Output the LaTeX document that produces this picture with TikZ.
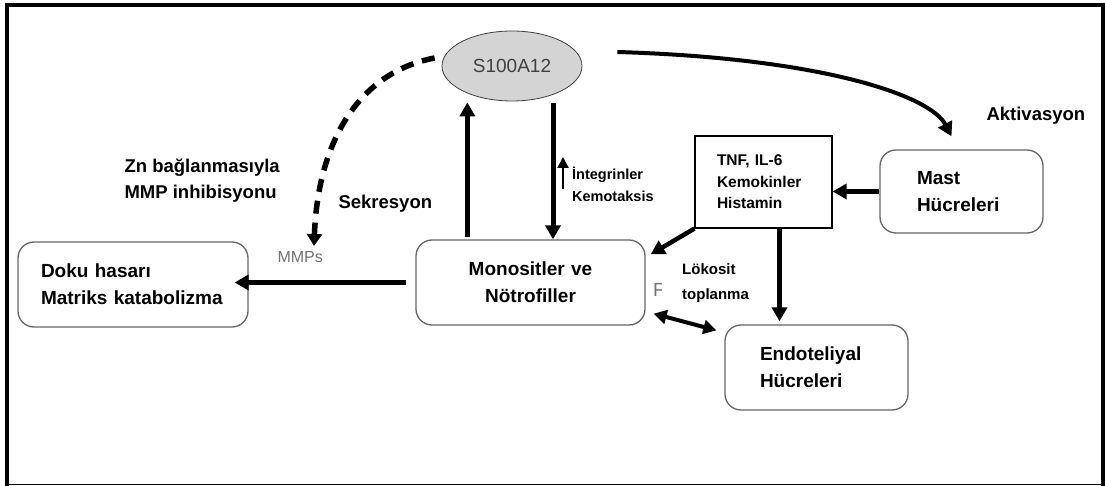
\documentclass[tikz,border=0pt]{standalone}
\usepackage{fontspec}
\setmainfont{Liberation Sans}
\usetikzlibrary{arrows.meta,calc,shapes.geometric}

\tikzset{
  cellbox/.style={draw=black!60, line width=1.3pt, rounded corners=16pt, fill=white,
    minimum height=85pt, align=left, font=\bfseries\fontsize{19}{27}\selectfont},
  arr/.style={line width=5pt, -{Triangle[length=14pt,width=15pt]}},
  lbl/.style={font=\bfseries\fontsize{18.5}{26}\selectfont, align=left},
  faint/.style={text=black!55, font=\fontsize{16}{18}\selectfont},
}

\begin{document}
\begin{tikzpicture}[x=1pt,y=-1pt]
\useasboundingbox (0,0) rectangle (1105,486);

% Frame around the figure
\draw[line width=4pt] (7,486) -- (7,5) -- (1103,5) -- (1103,486);
\draw[line width=1.2pt] (7,484.5) -- (1103,484.5);

% Define the protein and the cells
\node[ellipse, draw=black!75, line width=0.8pt, fill=black!17, minimum width=140pt, minimum height=70pt,
  text=black!75, font=\fontsize{19}{20}\selectfont] (s100) at (512,66) {S100A12};
\node[cellbox, minimum width=230pt, inner xsep=23pt, text width=184pt] (doku) at (133,284.5) {Doku hasarı\\Matriks katabolizma};
\node[cellbox, minimum width=229pt, inner xsep=10pt, text width=209pt, align=center] (mono) at (530.5,282.5) {Monositler ve\\Nötrofiller};
\node[cellbox, minimum width=163pt, minimum height=83pt, inner xsep=37pt, text width=89pt] (mast) at (961.5,191.5) {Mast\\Hücreleri};
\node[cellbox, minimum width=183pt, inner xsep=35pt, text width=113pt] (endo) at (816.5,367.5) {Endoteliyal\\Hücreleri};
\node[draw, line width=1.2pt, minimum width=137pt, minimum height=92pt, inner xsep=22pt, text width=93pt, align=left,
  font=\bfseries\fontsize{15.5}{21.5}\selectfont] (tnf) at (763.5,182) {TNF, IL-6\\Kemokinler\\Histamin};

% Labels
\node[lbl, anchor=west] (zn) at (121,181) {Zn bağlanmasıyla\\MMP inhibisyonu};
\node[lbl, anchor=west] (sekr) at (335,204) {Sekresyon};
\node[lbl, anchor=west] (akt) at (983,116) {Aktivasyon};
\node[font=\bfseries\fontsize{14.5}{22}\selectfont, align=left, anchor=west, inner sep=0pt] (integ) at (572,184) {İntegrinler\\Kemotaksis};
\node[faint, anchor=west] (mmp) at (274,257) {MMPs};
\node[faint, font=\fontsize{19}{20}\selectfont, anchor=west, inner sep=0pt] (fpart) at (653,290) {F};
\node[fill=white, anchor=north west, minimum width=108pt, minimum height=69pt, inner xsep=20pt, text width=68pt,
  align=left, font=\bfseries\fontsize{15}{25}\selectfont] (lok) at (662,248) {Lökosit\\toplanma};
\coordinate (mmptip) at (314,246);

% Draw the arrows
\draw[arr, line width=4pt] ($(s100.east)+(35,-14)$) .. controls (820,58) and (930,95) .. ($(mast.north)+(-10,-13)$);
\draw[line width=5.5pt, dash pattern=on 13pt off 9pt, -{Triangle[length=12pt,width=15pt]}]
  ($(s100.west)+(-7,-8)$) .. controls (360,72) and (318,140) .. (mmptip);
\draw[arr, shorten >=1pt] ($(mono.north west)+(52,-2)$) coordinate (up0) -- (up0 |- s100.south);
\draw[arr] ($(s100.south)+(41,2)$) coordinate (dn0) -- (dn0 |- mono.north);
\draw[line width=2.5pt, -{Triangle[length=11pt,width=11pt]}] ($(integ.west)+(-9,5)$) -- ($(integ.west)+(-9,-27)$);
\draw[arr, shorten <=9pt, shorten >=-14pt] (mono.west) -- (mono.west -| doku.east);
\draw[arr] (mast.west) -- (mast.west -| tnf.east);
\draw[arr, line width=4.5pt] (tnf.south west) -- ($(mono.north east)+(5,15)$);
\draw[arr, shorten >=3pt] ($(tnf.south)+(16,0)$) coordinate (dn1) -- (dn1 |- endo.north);
\draw[line width=4pt, {Triangle[length=13pt,width=14pt]}-{Triangle[length=13pt,width=14pt]}]
  ($(mono.south east)+(8,-12)$) -- ($(endo.north west)+(-8,6)$);

\end{tikzpicture}
\end{document}
